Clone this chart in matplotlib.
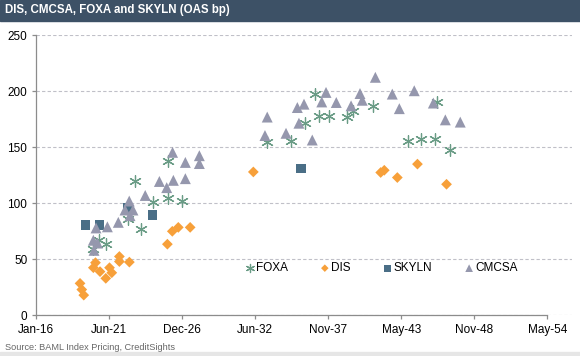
import numpy as np
import matplotlib.pyplot as plt
import matplotlib.dates as mdates
from matplotlib.patches import Rectangle
from datetime import datetime, timedelta

plt.rcParams['font.family'] = ['Liberation Sans', 'DejaVu Sans']

# maturities (decimal years) and OAS (bp)
foxa_yr = [2020.28, 2020.73, 2021.21, 2022.84, 2023.88, 2023.44, 2024.78, 2025.90, 2026.95, 2025.90,
           2033.33, 2035.08, 2036.15, 2036.93, 2037.23, 2037.98, 2039.28, 2039.78, 2041.28,
           2043.90, 2044.86, 2045.93, 2046.08, 2047.03]
foxa_oas = [59, 67, 63.5, 86, 77.5, 119.5, 101, 105, 102, 138,
            155, 156, 172, 198, 178, 178, 177, 182, 187,
            156, 157, 157, 190, 148]

dis_yr = [2019.28, 2019.41, 2019.56, 2020.44, 2020.28, 2020.78, 2021.21, 2021.49, 2021.66,
          2022.23, 2022.23, 2022.98, 2025.83, 2026.20, 2026.65, 2027.54,
          2032.28, 2041.83, 2042.10, 2043.08, 2044.59, 2046.77]
dis_oas = [28.5, 23, 18, 47, 42.5, 39, 33, 42.5, 38,
           52.5, 48, 47.5, 63.5, 75, 78.5, 78.5,
           128, 127.5, 129.5, 123, 135, 117]

skyln_yr = [2019.68, 2020.73, 2022.90, 2024.72, 2035.86]
skyln_oas = [80.5, 80.5, 96, 89.5, 131]

cmcsa_yr = [2020.33, 2020.28, 2020.59, 2020.48, 2021.33, 2022.15, 2022.97, 2022.65, 2023.25, 2023.03,
            2024.17, 2025.23, 2025.78, 2026.28, 2027.18, 2026.22, 2027.18, 2028.23, 2028.23,
            2033.32, 2033.15, 2034.73, 2036.70, 2035.70, 2035.58, 2036.08, 2037.41, 2037.73,
            2038.50, 2039.61, 2040.28, 2040.45, 2041.43, 2042.70, 2044.35, 2043.23, 2045.78,
            2046.68, 2047.80]
cmcsa_oas = [58, 67, 64.5, 78, 79, 83, 102, 94, 94, 89,
             107, 119.5, 114, 120.5, 122, 145.5, 136.5, 142.5, 135.5,
             177, 160.5, 162.5, 156.5, 171.5, 185.5, 188.5, 190.5, 199,
             190, 187, 198, 192, 212.5, 197.5, 200.5, 184.5, 189.5,
             174.5, 172.5]


def to_dates(years):
    return [datetime(int(y), 1, 1) + timedelta(days=(y % 1) * 365.25) for y in years]


fig = plt.figure(figsize=(5.8, 3.56), dpi=100)

# title bar
fig.patches.append(Rectangle((0, 1 - 21 / 356), 1, 21 / 356, transform=fig.transFigure,
                             color='#3d5166', zorder=0))
fig.text(5 / 580, 1 - 10.5 / 356, 'DIS, CMCSA, FOXA and SKYLN (OAS bp)', color='white',
         fontsize=8.3, fontweight='bold', va='center', ha='left')
# bottom strip
fig.patches.append(Rectangle((0, 0), 1, 4 / 356, transform=fig.transFigure,
                             color='#e6e6e6', zorder=0))
fig.text(5 / 580, 9 / 356, 'Source: BAML Index Pricing, CreditSights', color='#666666',
         fontsize=6.6, va='center', ha='left')

ax = fig.add_axes([36.3 / 580, 40.7 / 356, (572 - 36.3) / 580, 280 / 356])

asterisk = (6, 2, 0)
ax.scatter(to_dates(foxa_yr), foxa_oas, marker=asterisk, s=70, color='#6a9c86',
           linewidths=0.9, label='FOXA', zorder=3)
ax.scatter(to_dates(dis_yr), dis_oas, marker='D', s=30, color='#f7a03a',
           edgecolors='none', label='DIS', zorder=3)
ax.scatter(to_dates(skyln_yr), skyln_oas, marker='s', s=48, color='#4a6e86',
           edgecolors='none', label='SKYLN', zorder=3)
ax.scatter(to_dates(cmcsa_yr), cmcsa_oas, marker='^', s=62, color='#9597ad',
           edgecolors='none', label='CMCSA', zorder=3)

start = datetime(2016, 1, 1)
ticks = [start + timedelta(days=2000 * k) for k in range(8)]
ax.set_xticks(ticks)
ax.xaxis.set_major_formatter(mdates.DateFormatter('%b-%y'))
ax.set_xlim(start, start + timedelta(days=2000 * (572 - 36.3) / 73))
ax.set_ylim(0, 250)
ax.set_yticks(np.arange(0, 251, 50))

ax.grid(axis='y', linestyle=(0, (3, 2)), color='#c0c0c8', linewidth=0.8)
ax.set_axisbelow(True)
for side in ['top', 'right']:
    ax.spines[side].set_visible(False)
for side in ['left', 'bottom']:
    ax.spines[side].set_color('#8c8c8c')
    ax.spines[side].set_linewidth(0.9)
ax.spines['bottom'].set_bounds(mdates.date2num(ticks[0]), mdates.date2num(ticks[-1]))
ax.tick_params(axis='both', colors='#8c8c8c', labelcolor='black', labelsize=8.5,
               length=3, width=0.9)

leg = ax.legend(loc='center left', bbox_to_anchor=((245 - 36.3) / (572 - 36.3), 42 / 250),
                ncol=4, frameon=False, fontsize=8.5, handlelength=0.8, handletextpad=0.1,
                columnspacing=2.75, borderpad=0, borderaxespad=0, scatterpoints=1,
                markerscale=0.7)

plt.savefig('out.png', dpi=100)
